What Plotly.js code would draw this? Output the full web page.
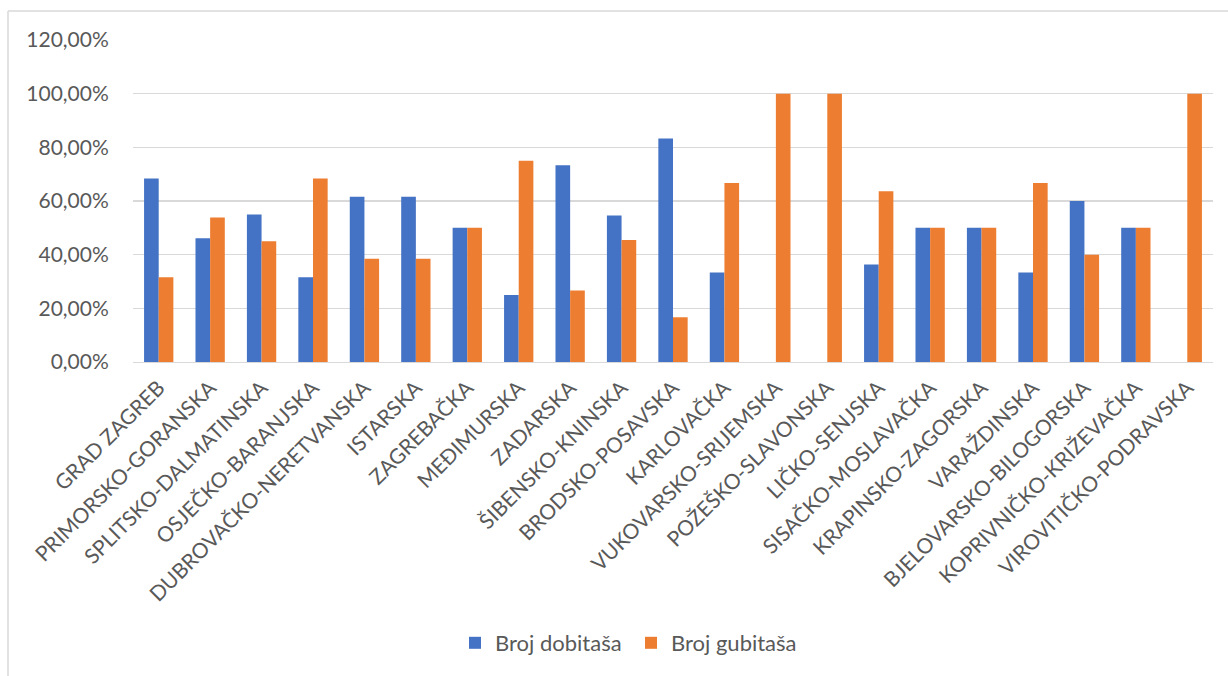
<!DOCTYPE html>
<html>
<head>
<meta charset="utf-8">
<script src="https://cdn.plot.ly/plotly-3.0.1.min.js"></script>
<style>
html,body{margin:0;padding:0;background:#fff;}
#chart{width:1228px;height:676px;}
</style>
</head>
<body>
<div id="chart"></div>
<script>
const counties = ["GRAD ZAGREB","PRIMORSKO-GORANSKA","SPLITSKO-DALMATINSKA","OSJEČKO-BARANJSKA","DUBROVAČKO-NERETVANSKA","ISTARSKA","ZAGREBAČKA","MEĐIMURSKA","ZADARSKA","ŠIBENSKO-KNINSKA","BRODSKO-POSAVSKA","KARLOVAČKA","VUKOVARSKO-SRIJEMSKA","POŽEŠKO-SLAVONSKA","LIČKO-SENJSKA","SISAČKO-MOSLAVAČKA","KRAPINSKO-ZAGORSKA","VARAŽDINSKA","BJELOVARSKO-BILOGORSKA","KOPRIVNIČKO-KRIŽEVAČKA","VIROVITIČKO-PODRAVSKA"];
const winners = [68.42,46.15,55.00,31.58,61.54,61.54,50.00,25.00,73.33,54.55,83.33,33.33,0,0,36.36,50.00,50.00,33.33,60.00,50.00,0];
const losers  = [31.58,53.85,45.00,68.42,38.46,38.46,50.00,75.00,26.67,45.45,16.67,66.67,100,100,63.64,50.00,50.00,66.67,40.00,50.00,100];
const seriesNames = ["Broj dobitaša","Broj gubitaša"];
const seriesColors = ["#4472C4","#ED7D31"];

const font = "Lato, 'Open Sans', sans-serif";
const textColor = "#595959";
const gridColor = "#d9d9d9";

// plot area pixel geometry
const L = 133, R = 1228 - 1213, T = 40, B = 676 - 362;
const pw = 1228 - L - R, ph = 676 - T - B;
const px = p => (p - L) / pw;
const py = p => (676 - B - p) / ph;

const legendIds = ["legend", "legend2"];
const traces = [winners, losers].map((vals, i) => ({
  type: "bar",
  name: seriesNames[i],
  x: counties,
  y: vals,
  legend: legendIds[i],
  marker: {color: seriesColors[i], line: {width: 0}},
  hoverinfo: "x+y+name"
}));

const legendBase = {
  orientation: "h",
  xanchor: "left",
  y: py(643), yanchor: "middle",
  font: {family: font, size: 22, color: textColor},
  bgcolor: "rgba(0,0,0,0)"
};

const layout = {
  width: 1228, height: 676,
  margin: {l: L, r: R, t: T, b: B, pad: 0},
  paper_bgcolor: "#fff", plot_bgcolor: "#fff",
  separators: ",.",
  font: {family: font, color: textColor, size: 20},
  barmode: "group",
  bargap: 0.43,
  bargroupgap: 0,
  showlegend: true,
  legend: Object.assign({}, legendBase, {x: px(455)}),
  legend2: Object.assign({}, legendBase, {x: px(631)}),
  xaxis: {
    type: "category",
    automargin: false,
    tickangle: -45,
    tickfont: {family: font, size: 21, color: textColor},
    showgrid: false,
    showline: true, linecolor: gridColor, linewidth: 1.3,
    ticks: "outside", ticklen: 4, tickcolor: "rgba(0,0,0,0)",
    zeroline: false
  },
  yaxis: {
    automargin: false,
    range: [0, 120],
    dtick: 20,
    tick0: 0,
    tickformat: ".2f",
    ticksuffix: "%",
    tickfont: {family: font, size: 21, color: textColor},
    showgrid: true, gridcolor: gridColor, gridwidth: 1.3,
    zeroline: false, showline: false,
    ticks: "outside", ticklen: 19, tickcolor: "rgba(0,0,0,0)"
  },
  shapes: [
    {type: "line", xref: "paper", yref: "paper", x0: px(8), x1: px(1240), y0: py(11), y1: py(11), line: {color: gridColor, width: 1.5}},
    {type: "line", xref: "paper", yref: "paper", x0: px(8), x1: px(8), y0: py(11), y1: py(690), line: {color: gridColor, width: 1.5}}
  ]
};

Plotly.newPlot("chart", traces, layout, {displayModeBar: false, staticPlot: true});
</script>
</body>
</html>
